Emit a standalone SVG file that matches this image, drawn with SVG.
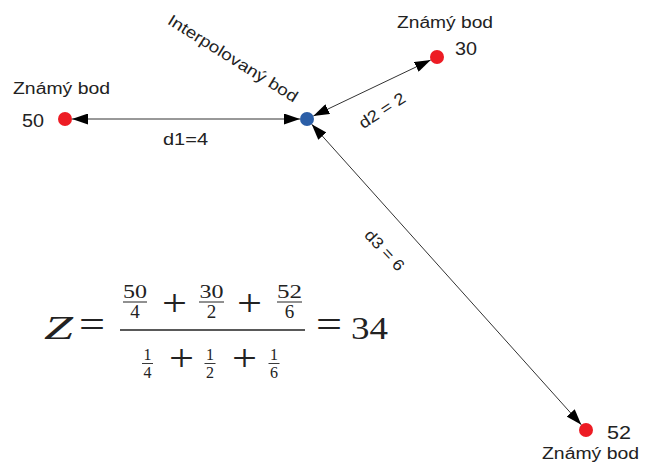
<svg xmlns="http://www.w3.org/2000/svg" width="645" height="466" viewBox="0 0 645 466">
<style>
.lbl{font-family:"Liberation Sans",Arial,sans-serif;font-size:16px;fill:#222}
.num{font-family:"Liberation Sans",Arial,sans-serif;font-size:19px;fill:#222}
.m{font-family:"Liberation Serif","Times New Roman",serif;fill:#222}
.op{font-family:"DejaVu Serif","Liberation Serif",serif;fill:#222;font-weight:normal}
.conn{stroke:#333;stroke-width:1;fill:none}
.red{fill:#ed1c24}
.blue{fill:#2b5ea7}
.bar{stroke:#222;fill:none}
</style>
<defs>
<marker id="ah" markerUnits="userSpaceOnUse" markerWidth="16" markerHeight="11" refX="16" refY="5.5" orient="auto-start-reverse" viewBox="0 0 16 11">
<path d="M0,0 L16,5.5 L0,11 z" fill="#000"/>
</marker>
</defs>
<rect width="645" height="466" fill="#fff"/>
<g id="connectors">
<line class="conn" x1="72" y1="119" x2="300" y2="119" marker-start="url(#ah)" marker-end="url(#ah)"/>
<line class="conn" x1="313.3" y1="116" x2="430.7" y2="60" marker-start="url(#ah)" marker-end="url(#ah)"/>
<line class="conn" x1="311.7" y1="124.2" x2="581.3" y2="424.8" marker-start="url(#ah)" marker-end="url(#ah)"/>
<text class="lbl" x="163" y="145" textLength="45" lengthAdjust="spacingAndGlyphs">d1=4</text>
<text class="lbl" transform="translate(385,115) rotate(-33)" text-anchor="middle" textLength="52" lengthAdjust="spacingAndGlyphs">d2 = 2</text>
<text class="lbl" transform="translate(380.6,254) rotate(47)" text-anchor="middle" textLength="50" lengthAdjust="spacingAndGlyphs">d3 = 6</text>
</g>
<g id="node-50">
<circle class="red" cx="65" cy="119" r="7"/>
<text class="lbl" x="13" y="94" textLength="97" lengthAdjust="spacingAndGlyphs">Známý bod</text>
<text class="num" x="22" y="127" textLength="22" lengthAdjust="spacingAndGlyphs">50</text>
</g>
<g id="node-interp">
<circle class="blue" cx="307" cy="119" r="7"/>
<text class="lbl" transform="translate(230,63) rotate(32)" text-anchor="middle" textLength="150" lengthAdjust="spacingAndGlyphs">Interpolovaný bod</text>
</g>
<g id="node-30">
<circle class="red" cx="437" cy="57" r="7"/>
<text class="lbl" x="397" y="28" textLength="96" lengthAdjust="spacingAndGlyphs">Známý bod</text>
<text class="num" x="455" y="55" textLength="22" lengthAdjust="spacingAndGlyphs">30</text>
</g>
<g id="node-52">
<circle class="red" cx="586" cy="430" r="7"/>
<text class="num" x="607" y="439" textLength="24" lengthAdjust="spacingAndGlyphs">52</text>
<text class="lbl" x="542" y="459" textLength="97" lengthAdjust="spacingAndGlyphs">Známý bod</text>
</g>
<g id="formula">
<text class="m" x="44" y="339" font-size="33" font-style="italic" textLength="29" lengthAdjust="spacingAndGlyphs">Z</text>
<text class="m" x="79" y="338" font-size="40" textLength="26" lengthAdjust="spacingAndGlyphs">=</text>
<line class="bar" x1="120" y1="330" x2="305" y2="330" stroke-width="1.4"/>
<text class="m" x="135" y="298" font-size="19" text-anchor="middle" textLength="24" lengthAdjust="spacingAndGlyphs">50</text>
<line class="bar" x1="123" y1="302" x2="147" y2="302" stroke-width="1"/>
<text class="m" x="135" y="318" font-size="19" text-anchor="middle">4</text>
<text class="m" x="162" y="316" font-size="38" textLength="25" lengthAdjust="spacingAndGlyphs">+</text>
<text class="m" x="211.5" y="298" font-size="19" text-anchor="middle" textLength="24" lengthAdjust="spacingAndGlyphs">30</text>
<line class="bar" x1="199" y1="302" x2="224" y2="302" stroke-width="1"/>
<text class="m" x="211.5" y="318" font-size="19" text-anchor="middle">2</text>
<text class="m" x="237" y="316" font-size="38" textLength="25" lengthAdjust="spacingAndGlyphs">+</text>
<text class="m" x="289.5" y="298" font-size="19" text-anchor="middle" textLength="25" lengthAdjust="spacingAndGlyphs">52</text>
<line class="bar" x1="277" y1="302" x2="302" y2="302" stroke-width="1"/>
<text class="m" x="289.5" y="318" font-size="19" text-anchor="middle">6</text>
<text class="m" x="147.5" y="360" font-size="16" text-anchor="middle">1</text>
<line class="bar" x1="142" y1="363.5" x2="153" y2="363.5" stroke-width="0.9"/>
<text class="m" x="147.5" y="378" font-size="16" text-anchor="middle">4</text>
<text class="m" x="169" y="371" font-size="38" textLength="25" lengthAdjust="spacingAndGlyphs">+</text>
<text class="m" x="210" y="360" font-size="16" text-anchor="middle">1</text>
<line class="bar" x1="204.5" y1="363.5" x2="215.5" y2="363.5" stroke-width="0.9"/>
<text class="m" x="210" y="378" font-size="16" text-anchor="middle">2</text>
<text class="m" x="232" y="371" font-size="38" textLength="25" lengthAdjust="spacingAndGlyphs">+</text>
<text class="m" x="274" y="360" font-size="16" text-anchor="middle">1</text>
<line class="bar" x1="268.5" y1="363.5" x2="279.5" y2="363.5" stroke-width="0.9"/>
<text class="m" x="274" y="378" font-size="16" text-anchor="middle">6</text>
<text class="m" x="316" y="338" font-size="40" textLength="26" lengthAdjust="spacingAndGlyphs">=</text>
<text class="m" x="351" y="339" font-size="31" textLength="37" lengthAdjust="spacingAndGlyphs">34</text>
</g>
</svg>
